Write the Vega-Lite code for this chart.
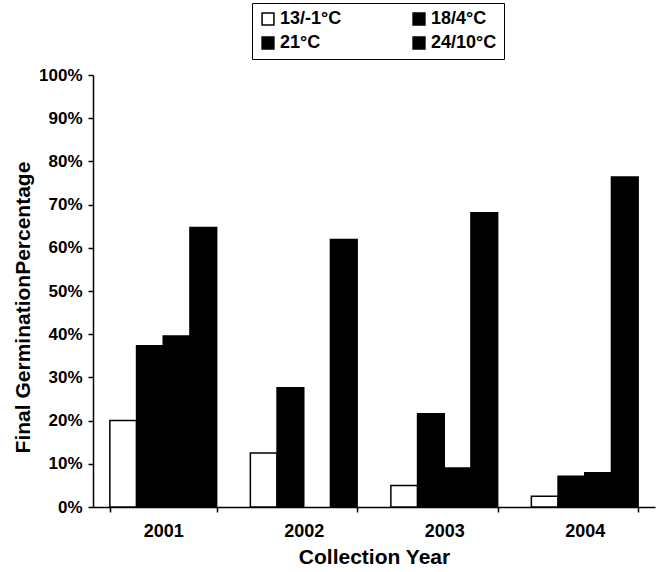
{
  "$schema": "https://vega.github.io/schema/vega-lite/v6.json",
  "width": 562,
  "height": 432,
  "autosize": "none",
  "padding": {"left": 93, "top": 75, "right": 8, "bottom": 65},
  "background": "white",
  "data": {
    "values": [
      {"year": "2001", "temp": "13/-1°C", "pct": 0.20},
      {"year": "2001", "temp": "18/4°C", "pct": 0.373},
      {"year": "2001", "temp": "21°C", "pct": 0.396},
      {"year": "2001", "temp": "24/10°C", "pct": 0.647},
      {"year": "2002", "temp": "13/-1°C", "pct": 0.125},
      {"year": "2002", "temp": "18/4°C", "pct": 0.276},
      {"year": "2002", "temp": "24/10°C", "pct": 0.619},
      {"year": "2003", "temp": "13/-1°C", "pct": 0.05},
      {"year": "2003", "temp": "18/4°C", "pct": 0.216},
      {"year": "2003", "temp": "21°C", "pct": 0.09},
      {"year": "2003", "temp": "24/10°C", "pct": 0.681},
      {"year": "2004", "temp": "13/-1°C", "pct": 0.025},
      {"year": "2004", "temp": "18/4°C", "pct": 0.071},
      {"year": "2004", "temp": "21°C", "pct": 0.079},
      {"year": "2004", "temp": "24/10°C", "pct": 0.764}
    ]
  },
  "config": {
    "view": {"stroke": null},
    "font": "Liberation Sans"
  },
  "mark": {"type": "bar", "stroke": "black", "strokeWidth": 1.5},
  "encoding": {
    "x": {
      "field": "year",
      "type": "nominal",
      "scale": {"paddingInner": 0.24, "paddingOuter": 0.12},
      "axis": {
        "title": "Collection Year",
        "labelAngle": 0,
        "tickBand": "extent",
        "domainColor": "black",
        "domainWidth": 1.5,
        "tickColor": "black",
        "tickWidth": 1.5,
        "tickSize": 5,
        "labelFont": "Liberation Sans",
        "labelFontSize": 18,
        "labelFontWeight": "bold",
        "labelColor": "black",
        "labelPadding": 10,
        "titleFont": "Liberation Sans",
        "titleFontSize": 21,
        "titleFontWeight": "bold",
        "titleColor": "black",
        "titlePadding": 6
      }
    },
    "xOffset": {
      "field": "temp",
      "type": "nominal",
      "sort": ["13/-1°C", "18/4°C", "21°C", "24/10°C"],
      "scale": {"paddingInner": 0, "paddingOuter": 0}
    },
    "y": {
      "field": "pct",
      "type": "quantitative",
      "scale": {"domain": [0, 1], "nice": false},
      "axis": {
        "title": "Final GerminationPercentage",
        "format": ".0%",
        "values": [0, 0.1, 0.2, 0.3, 0.4, 0.5, 0.6, 0.7, 0.8, 0.9, 1.0],
        "grid": false,
        "domainColor": "black",
        "domainWidth": 1.5,
        "tickColor": "black",
        "tickWidth": 1.5,
        "tickSize": 5,
        "labelFont": "Liberation Sans",
        "labelFontSize": 17,
        "labelFontWeight": "bold",
        "labelColor": "black",
        "labelPadding": 6,
        "titleFont": "Liberation Sans",
        "titleFontSize": 21,
        "titleFontWeight": "bold",
        "titleColor": "black",
        "titlePadding": 5,
        "titleY": 232
      }
    },
    "fill": {
      "field": "temp",
      "type": "nominal",
      "sort": ["13/-1°C", "18/4°C", "21°C", "24/10°C"],
      "scale": {
        "domain": ["13/-1°C", "18/4°C", "21°C", "24/10°C"],
        "range": ["white", "black", "black", "black"]
      },
      "legend": {
        "title": null,
        "orient": "none",
        "direction": "horizontal",
        "legendX": 159,
        "legendY": -72,
        "columns": 2,
        "columnPadding": 68,
        "rowPadding": 6,
        "symbolType": "square",
        "symbolSize": 140,
        "symbolStrokeColor": "black",
        "symbolStrokeWidth": 1.5,
        "labelFont": "Liberation Sans",
        "labelFontSize": 18,
        "labelFontWeight": "bold",
        "labelColor": "black",
        "labelOffset": 3,
        "strokeColor": "black",
        "padding": 7
      }
    }
  }
}
